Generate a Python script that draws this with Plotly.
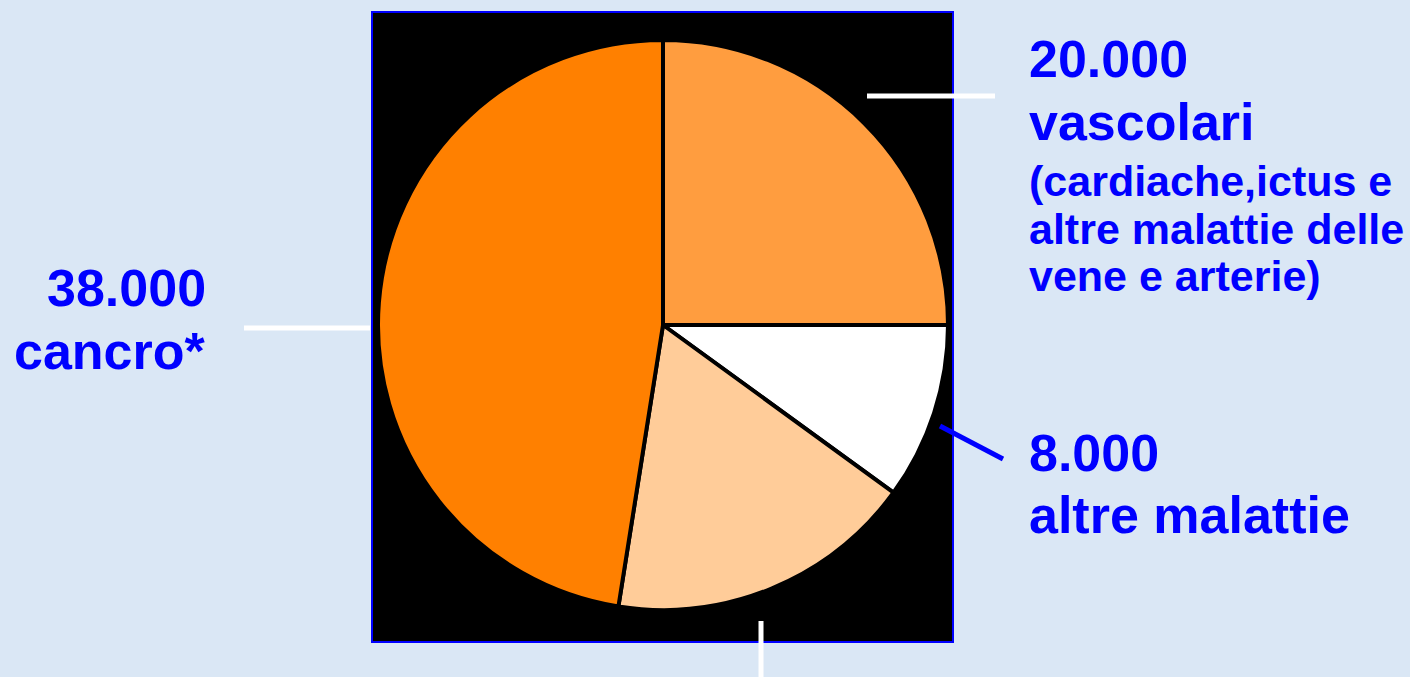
import plotly.graph_objects as go

W, H = 1410, 677

# ---- data ----
categories = ["vascolari", "altre malattie", "respiratorie", "cancro*"]
deaths = [20000, 8000, 14000, 38000]
slice_colors = ["#FF9D3F", "#FFFFFF", "#FFCC99", "#FF8000"]

TEXT_BLUE = "#0000FF"
BG = "#DAE7F5"

def px(x):
    return x / W

def py(y):
    return 1 - y / H

# pie centre / radius in pixels
cx, cy, r = 663, 325, 285

fig = go.Figure()
fig.add_trace(go.Pie(
    labels=categories,
    values=deaths,
    sort=False,
    direction="clockwise",
    rotation=0,
    marker=dict(colors=slice_colors, line=dict(color="#000000", width=4)),
    textinfo="none",
    hoverinfo="label+value",
    showlegend=False,
    domain=dict(x=[px(cx - r), px(cx + r)], y=[py(cy + r), py(cy - r)]),
))

shapes = [
    # black panel with blue frame
    dict(type="rect", xref="paper", yref="paper", layer="below",
         x0=px(372), x1=px(953), y0=py(642), y1=py(12),
         fillcolor="#000000", line=dict(color="#0000FF", width=2)),
    # white leader lines
    dict(type="line", xref="paper", yref="paper", x0=px(867), x1=px(995), y0=py(96), y1=py(96),
         line=dict(color="#FFFFFF", width=5)),
    dict(type="line", xref="paper", yref="paper", x0=px(244), x1=px(370), y0=py(328), y1=py(328),
         line=dict(color="#FFFFFF", width=5)),
    dict(type="line", xref="paper", yref="paper", x0=px(761), x1=px(761), y0=py(621), y1=py(680),
         line=dict(color="#FFFFFF", width=5)),
    # blue leader line
    dict(type="line", xref="paper", yref="paper", x0=px(940), x1=px(1003), y0=py(426), y1=py(459),
         line=dict(color="#0000FF", width=5)),
]

BIG, SMALL = 52, 43
FONT = "Liberation Sans, Arial, sans-serif"

def line_text(text, x, baseline, size):
    return dict(
        text="<b>%s</b>" % text, xref="paper", yref="paper",
        x=px(x), y=py(baseline - 0.35 * size),
        xanchor="left", yanchor="middle", showarrow=False,
        font=dict(family=FONT, size=size, color=TEXT_BLUE),
    )

annotations = [
    line_text("20.000", 1027, 77, BIG),
    line_text("vascolari", 1027, 140, BIG),
    line_text("(cardiache,ictus e", 1027, 196, SMALL),
    line_text("altre malattie delle", 1027, 244, SMALL),
    line_text("vene e arterie)", 1027, 291, SMALL),
    line_text("38.000", 45, 306, BIG),
    line_text("cancro*", 12, 369, BIG),
    line_text("8.000", 1027, 471, BIG),
    line_text("altre malattie", 1027, 533, BIG),
]

fig.update_layout(
    width=W, height=H,
    margin=dict(l=0, r=0, t=0, b=0),
    paper_bgcolor=BG, plot_bgcolor=BG,
    shapes=shapes, annotations=annotations,
)

fig.write_html(
    "out.html",
    config={"displayModeBar": False},
    post_script="document.body.style.margin='0';document.body.style.overflow='hidden';",
)
